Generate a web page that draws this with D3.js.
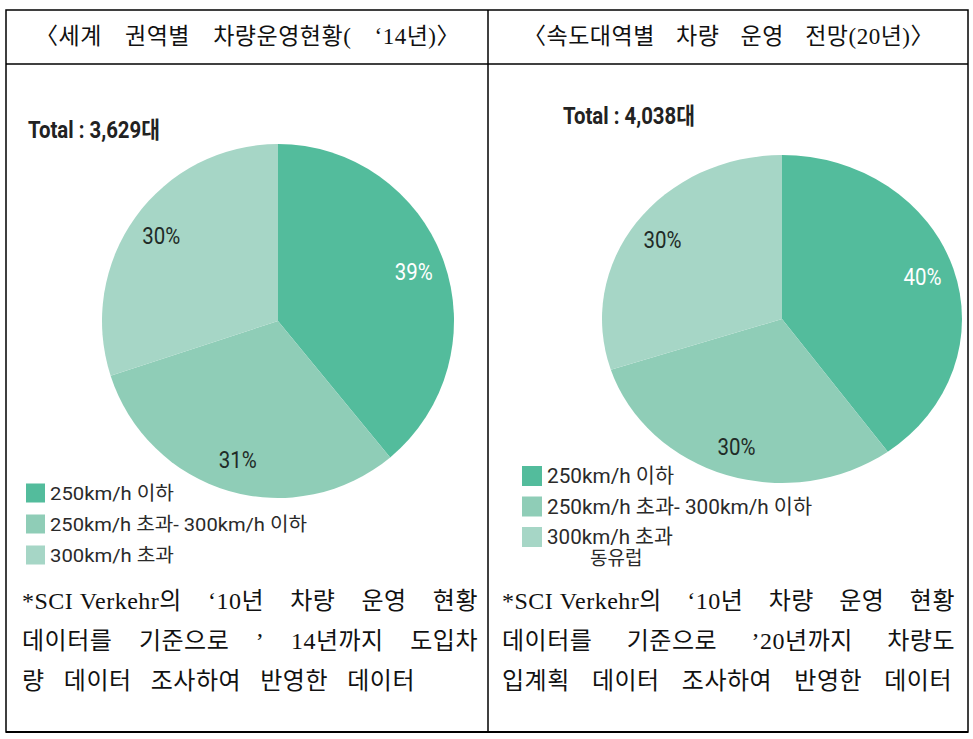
<!DOCTYPE html>
<html><head><meta charset="utf-8">
<script src="https://cdn.jsdelivr.net/npm/d3@7"></script>
<style>body{margin:0;background:#fff}</style>
</head><body>
<svg id="c" width="973" height="739"></svg>
<script>
const categories = ["250km/h 이하", "250km/h 초과- 300km/h 이하", "300km/h 초과"];
const values2014 = [39, 31, 30];
const values2020 = [40, 30, 30];
const titles = ["〈세계 권역별 차량운영현황( ‘14년)〉", "〈속도대역별 차량 운영 전망(20년)〉"];
const totals = ["Total : 3,629대", "Total : 4,038대"];
const notesLeft = ["*SCI\u00a0Verkehr의 ‘10년 차량 운영 현황", "데이터를 기준으로 ’ 14년까지 도입차", "량 데이터 조사하여 반영한 데이터"];
const notesRight = ["*SCI\u00a0Verkehr의 ‘10년 차량 운영 현황", "데이터를 기준으로 ’20년까지 차량도", "입계획 데이터 조사하여 반영한 데이터"];
const extraNote = "동유럽";

const colors = ["#53bc9c", "#8fcdb7", "#a6d6c6"];
const labelColors = ["#ffffff", "#1f2b27", "#1f2b27"];
const svg = d3.select("#c");
const serif = "'Liberation Serif','Noto Sans CJK KR',serif";
const sans = "Roboto,'Noto Sans CJK KR',sans-serif";

// table borders
const T = {l:6, t:10, r:968, b:732, mid:488, head:64};
svg.append("rect").attr("x",T.l).attr("y",T.t).attr("width",T.r-T.l).attr("height",T.b-T.t)
  .attr("fill","none").attr("stroke","#000").attr("stroke-width",1.5);
svg.append("line").attr("x1",T.mid).attr("x2",T.mid).attr("y1",T.t).attr("y2",T.b).attr("stroke","#000").attr("stroke-width",1.5);
svg.append("line").attr("x1",T.l).attr("x2",T.r).attr("y1",T.head).attr("y2",T.head).attr("stroke","#000").attr("stroke-width",1.5);
svg.append("line").attr("x1",T.l).attr("x2",T.r).attr("y1",T.b).attr("y2",T.b).attr("stroke","#000").attr("stroke-width",2.2);

// justify a line word by word between x0 and x1
function justify(str, x0, x1, y, fs, ls) {
  const words = str.split(" ");
  const g = svg.append("g");
  const nodes = words.map(w => g.append("text").attr("y",y).attr("font-family",serif)
      .attr("font-size",fs).attr("letter-spacing",ls).attr("fill","#111").text(w));
  const widths = nodes.map(n => n.node().getComputedTextLength());
  const total = d3.sum(widths);
  const gap = words.length>1 ? (x1-x0-total)/(words.length-1) : 0;
  let x = x0;
  nodes.forEach((n,i)=>{ n.attr("x",x); x += widths[i]+gap; });
}

justify(titles[0], 35, 460, 44, 23, 0.5);
justify(titles[1], 523, 934, 44, 23, 0.5);

function drawPie(vals, cx, cy, rx, ry, total, tx, ty) {
  const pie = d3.pie().sort(null).value(d=>d)(vals);
  const arc = d3.arc().innerRadius(0).outerRadius(rx);
  const lab = d3.arc().innerRadius(rx*0.82).outerRadius(rx*0.82);
  const g = svg.append("g").attr("transform",`translate(${cx},${cy}) scale(1,${ry/rx})`);
  g.selectAll("path").data(pie).join("path").attr("d",arc).attr("fill",(d,i)=>colors[i]);
  svg.append("g").selectAll("text").data(pie).join("text")
    .attr("x",d=>cx+lab.centroid(d)[0]).attr("y",d=>cy+lab.centroid(d)[1]*ry/rx+8)
    .attr("text-anchor","middle").attr("font-family",sans).attr("font-size",23)
    .attr("textLength",38).attr("lengthAdjust","spacingAndGlyphs")
    .attr("fill",(d,i)=>labelColors[i]).text(d=>d.data+"%");
  svg.append("text").attr("x",tx).attr("y",ty).attr("font-family",sans).attr("font-weight","bold")
    .attr("font-size",23).attr("textLength",132).attr("lengthAdjust","spacingAndGlyphs")
    .attr("fill","#222").text(total);
}
drawPie(values2014, 278, 321, 176, 177, totals[0], 28, 138);
drawPie(values2020, 782, 319, 180, 164, totals[1], 563, 124);

function legend(x, y0, step, sz, fs, widths) {
  categories.forEach((c,i)=>{
    const y = y0 + i*step;
    svg.append("rect").attr("x",x).attr("y",y-sz/2).attr("width",sz).attr("height",sz).attr("fill",colors[i]);
    svg.append("text").attr("x",x+sz+5).attr("y",y+fs*0.36).attr("font-family",sans).attr("font-size",fs)
      .attr("fill","#2a2a2a").attr("textLength",widths[i]).attr("lengthAdjust","spacingAndGlyphs").text(c);
  });
}
legend(26, 493, 31, 19, 19, [124, 257, 124]);
legend(522, 476, 30.5, 20, 20, [127, 265, 126]);
svg.append("text").attr("x",590).attr("y",565).attr("font-family",sans).attr("font-size",19)
  .attr("fill","#2a2a2a").text(extraNote);

// footnotes
function notes(lines, x, ends) {
  lines.forEach((t,i)=> justify(t, x, ends[i], 609+i*40, 24, 0.5));
}
notes(notesLeft, 22, [478, 478, 415]);
notes(notesRight, 502, [955, 955, 952]);
</script>
</body></html>
